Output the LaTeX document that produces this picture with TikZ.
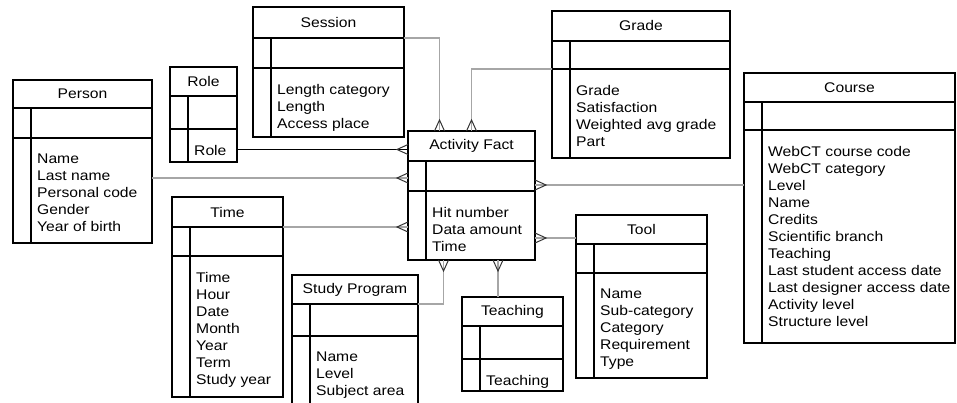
\documentclass[tikz,border=0pt]{standalone}
\usepackage{fontspec}
\setmainfont{Liberation Sans}[FakeStretch=1.12]
\usetikzlibrary{calc,positioning,decorations.markings}

% a table: name, left, top, width, head, key, attr heights, title, fields
\newcommand{\entity}[9]{%
  \node[head,minimum width=#4pt,minimum height=#5pt] (#1) at (#2,#3) {#8};
  \node[keyrow,minimum width=#4pt,minimum height=#6pt,below=0pt of #1] (#1 key) {};
  \node[attrs,minimum width=#4pt,minimum height=#7pt,below=0pt of #1 key] (#1 attr) {};
  \node[items] (#1 text) at ($(#1 attr.north west)+(24,16)$) {#9};
  \draw[line width=1.1pt] ($(#1 key.north west)+(18,0)$) -- ($(#1 attr.south west)+(18,0)$);
}

\begin{document}
\begin{tikzpicture}[x=1pt,y=-1pt,
  every node/.style={font=\fontsize{14}{17}\selectfont},
  part/.style={draw,line width=1.1pt,inner sep=0pt,outer sep=0pt},
  head/.style={part,anchor=north west},
  keyrow/.style={part},
  attrs/.style={part},
  items/.style={anchor=north west,align=left,inner sep=0pt},
  link/.style={draw=gray!70,line width=1.4pt},
  many/.style={postaction={decorate},decoration={markings,
      mark=at position 1 with {\draw[black!80,line width=1pt] (0,5) -- (-11,0) -- (0,-5);}}}
]
\useasboundingbox (0,0) rectangle (957,403);

% the tables
\entity{person}{13}{80}{139}{28}{30}{105}{Person}{Name\\Last name\\Personal code\\Gender\\Year of birth}
\entity{role}{170}{67}{67}{29}{33}{33}{Role}{Role}
\entity{session}{253}{7}{151}{31}{30}{69}{Session}{Length category\\Length\\Access place}
\entity{fact}{408}{131}{127}{30}{30}{69}{Activity Fact}{Hit number\\Data amount\\Time}
\entity{grade}{552}{11}{178}{30}{28}{89}{Grade}{Grade\\Satisfaction\\Weighted avg grade\\Part}
\entity{course}{744}{73}{211}{29}{28}{213}{Course}{WebCT course code\\WebCT category\\Level\\Name\\Credits\\Scientific branch\\Teaching\\Last student access date\\Last designer access date\\Activity level\\Structure level}
\entity{time}{172}{197}{111}{30}{29}{141}{Time}{Time\\Hour\\Date\\Month\\Year\\Term\\Study year}
\entity{study}{292}{275}{126}{29}{32}{80}{Study Program}{Name\\Level\\Subject area}
\entity{teach}{462}{297}{101}{29}{33}{32}{Teaching}{Teaching}
\entity{tool}{576}{215}{131}{29}{29}{105}{Tool}{Name\\Sub-category\\Category\\Requirement\\Type}

% end points of the links
\coordinate (role out) at ($(role attr.east)+(0,4)$);
\coordinate (person out) at (person attr.east |- 0,178);
\coordinate (tool out) at (tool.west |- 0,238);
\coordinate (course out) at (course attr.west |- 0,185);
\coordinate (teach top) at ($(teach.north west)+(36,0)$);
\coordinate (fact top) at ($(fact.north)+(-32,0)$);
\coordinate (fact low) at ($(fact attr.south)+(-28,0)$);

% links to the fact table
\draw[link,many] (session.south east) -| (fact top);
\draw[link,many] (grade key.south west) -| (fact.north);
\draw[link,many,draw=black,line width=1pt] (role out) -- (role out -| fact.west);
\draw[link,many] (person out) -- (person out -| fact.west);
\draw[link,many] (time.south east) -- (time.south east -| fact.west);
\draw[link,many] (study.south east) -| (fact low);
\draw[link,many] (teach top) -- (teach top |- fact attr.south);
\draw[link,many] (tool out) -- (tool out -| fact.east);
\draw[link,many] (course out) -- (course out -| fact.east);
\end{tikzpicture}
\end{document}
